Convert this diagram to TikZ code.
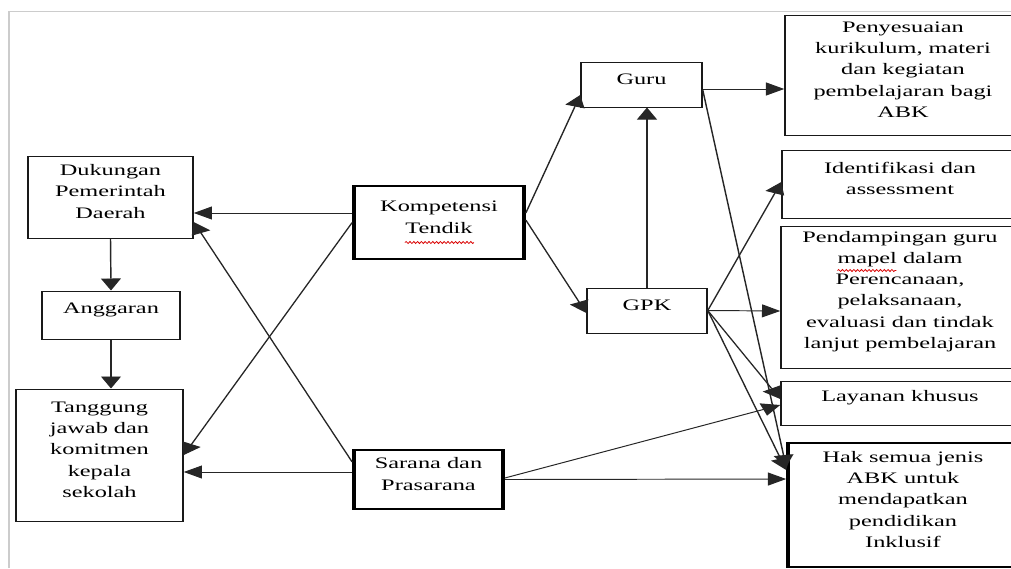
\documentclass[tikz,border=0pt]{standalone}
\usepackage{fontspec}
\setmainfont{Liberation Serif}
\usetikzlibrary{fit,arrows.meta,decorations.pathmorphing}

\begin{document}
\begin{tikzpicture}
[boxDecorate/.style={draw=black!90,line width=1pt,inner sep=0pt,align=center,
   font=\fontsize{16pt}{21.3pt}\selectfont},%
  thickBoxDecorate/.style={boxDecorate,draw=black,line width=2.4pt},%
  arrowDecorate/.style={-{Triangle[length=12pt,width=13pt]},draw=black!85,line width=0.95pt},%
  spellDecorate/.style={red!85!black,line width=0.6pt,decorate,
   decoration={snake,amplitude=1pt,segment length=2.5pt}},%
  x={(0.65789pt,0)},y={(0,-1pt)}]
\useasboundingbox (0pt,0pt) rectangle (1011pt,-568pt);
\begin{scope}[transform canvas={xscale=1.52}]
%% page frame
\draw[gray!40,line width=0.8pt] (9,568) -- (9,11) -- (1011,11);
%% left column
\node[boxDecorate,fit={(28,156) (193,238)}] (dukungan) {Dukungan\\Pemerintah\\Daerah};
\node[boxDecorate,fit={(42,291) (180,339)}] (anggaran) {Anggaran};
\node[boxDecorate,fit={(16,389) (183,521)}] (tanggung) {Tanggung\\jawab dan\\komitmen\\kepala\\sekolah};
%% middle
\node[thickBoxDecorate,fit={(354,186) (524,259)}] (kompetensi) {Kompetensi\\Tendik};
\node[thickBoxDecorate,fit={(354,450) (503,509)}] (sarana) {Sarana dan\\Prasarana};
\node[boxDecorate,fit={(581,62) (702,107)}] (guru) {Guru};
\node[boxDecorate,fit={(587,288) (707,333)}] (gpk) {GPK};
%% right column
\node[boxDecorate,fit={(785,15) (1021,135)}] (penyesuaian)
  {Penyesuaian\\kurikulum, materi\\dan kegiatan\\pembelajaran bagi\\ABK};
\node[boxDecorate,fit={(782,150) (1018,218)}] (identifikasi) {Identifikasi dan\\assessment};
\node[boxDecorate,fit={(781,226) (1019,368)}] (pendampingan)
  {Pendampingan guru\\mapel dalam\\Perencanaan,\\pelaksanaan,\\evaluasi dan tindak\\lanjut pembelajaran};
\node[boxDecorate,fit={(781,381) (1019,425)}] (layanan) {Layanan khusus};
\node[thickBoxDecorate,fit={(788,443) (1018,567)}] (hak)
  {Hak semua jenis\\ABK untuk\\mendapatkan\\pendidikan\\Inklusif};
%% spelling marks
\draw[spellDecorate] ([shift={(-34,20)}]kompetensi.center) -- ++(69,0);
\draw[spellDecorate] ([shift={(-62.5,-26.5)}]pendampingan.center) -- ++(59,0);
%% arrows
\foreach \startnode/\sshift/\endnode/\eshift in {
  %% to the left column
  kompetensi.west/9.5/dukungan.east/-16, kompetensi.west/0/tanggung.east/0,
  sarana.west/17.5/dukungan.east/-25, sarana.west/7.5/tanggung.east/-17,
  dukungan.south/0/anggaran.north/0,
  %% teachers
  kompetensi.east/9.5/guru.west/-10.5, kompetensi.east/2.5/gpk.west/-2.5,
  guru.east/-4.5/penyesuaian.west/-14, guru.east/-5.5/hak.west/38,
  %% to the right column
  gpk.east/0/identifikasi.west/2, gpk.east/0/pendampingan.west/-14,
  gpk.east/0/layanan.west/4, gpk.east/0/hak.west/35,
  sarana.east/1.5/layanan.west/-2, sarana.east/0/hak.west/26}
{
  \draw[arrowDecorate] ([yshift=\sshift pt]\startnode) -- ([yshift=\eshift pt]\endnode);
}
\draw[arrowDecorate] (anggaran.south) -- (anggaran.south |- tanggung.north);
\draw[arrowDecorate] (gpk.north) -- (gpk.north |- guru.south);
\end{scope}
\end{tikzpicture}
\end{document}
